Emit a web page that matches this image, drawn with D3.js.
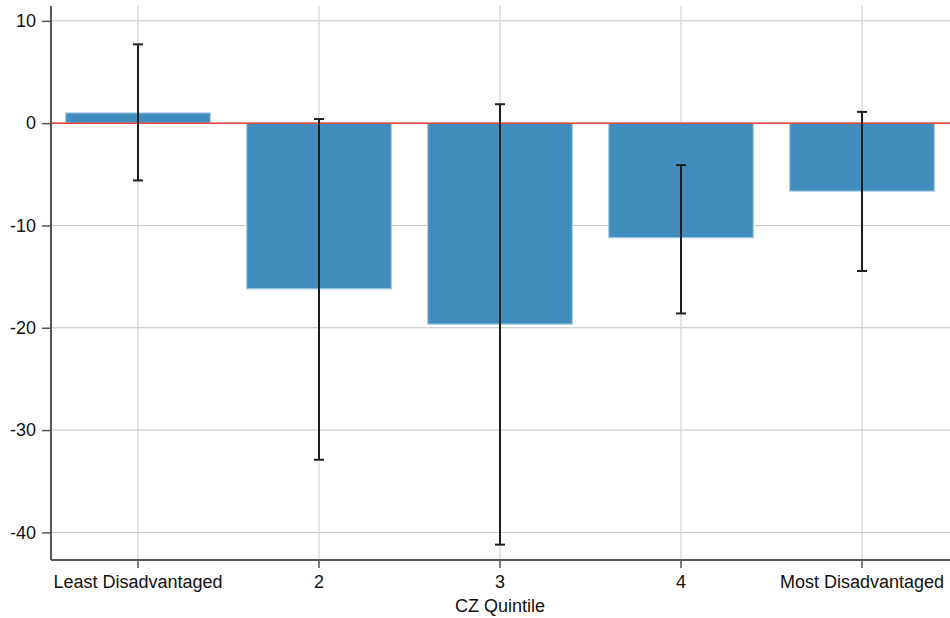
<!DOCTYPE html>
<html>
<head>
<meta charset="utf-8">
<script src="https://cdn.jsdelivr.net/npm/d3@7/dist/d3.min.js"></script>
<style>
  html, body { margin: 0; padding: 0; background: #fff; }
  svg { display: block; font-family: "Liberation Sans", Arial, Helvetica, sans-serif; }
</style>
</head>
<body>
<svg id="chart" width="950" height="618"></svg>
<script>
const categories = ["Least Disadvantaged", "2", "3", "4", "Most Disadvantaged"];
const values = [1.0, -16.2, -19.65, -11.2, -6.65];
const ciLow = [-5.6, -32.9, -41.2, -18.6, -14.45];
const ciHigh = [7.7, 0.4, 1.85, -4.1, 1.1];
const yTicks = [10, 0, -10, -20, -30, -40];
const xTitle = "CZ Quintile";

(function () {
const svg = d3.select("#chart");
const mLeft = 51, mTop = 6, mBottom = 560, mRight = 950;
const FS = 18;

const x = d3.scaleBand().domain(categories).range([47.5, 952.5]).padding(0);
const y = d3.scaleLinear().domain([-42.7, 11.45]).range([mBottom, mTop]);

const data = categories.map((c, i) => ({ c, v: values[i], lo: ciLow[i], hi: ciHigh[i] }));

// gridlines
const grid = svg.append("g");
grid.selectAll("line.h").data(yTicks).join("line").attr("class", "h")
  .attr("x1", mLeft).attr("x2", mRight)
  .attr("y1", d => y(d)).attr("y2", d => y(d))
  .attr("stroke", "#c4c4c4").attr("stroke-width", 1);
grid.selectAll("line.v").data(categories).join("line").attr("class", "v")
  .attr("x1", d => x(d) + x.bandwidth() / 2).attr("x2", d => x(d) + x.bandwidth() / 2)
  .attr("y1", mTop).attr("y2", mBottom)
  .attr("stroke", "#d6d6d6").attr("stroke-width", 1.3);

// bars
const bw = x.bandwidth() * 0.8;
svg.append("g").selectAll("rect").data(data).join("rect")
  .attr("x", d => x(d.c) + (x.bandwidth() - bw) / 2)
  .attr("width", bw)
  .attr("y", d => Math.min(y(d.v), y(0)))
  .attr("height", d => Math.abs(y(d.v) - y(0)))
  .attr("fill", "#418dbd")
  .attr("stroke", "#a9cfe8")
  .attr("stroke-width", 1.2);

// zero line
svg.append("line")
  .attr("x1", mLeft).attr("x2", mRight)
  .attr("y1", y(0)).attr("y2", y(0))
  .attr("stroke", "#e8413c").attr("stroke-width", 1.5);

// error bars
const eb = svg.append("g").attr("stroke", "#1e1e1e").attr("stroke-width", 2);
data.forEach(d => {
  const cx = x(d.c) + x.bandwidth() / 2;
  eb.append("line").attr("x1", cx).attr("x2", cx).attr("y1", y(d.hi)).attr("y2", y(d.lo));
  eb.append("line").attr("x1", cx - 5).attr("x2", cx + 5).attr("y1", y(d.hi)).attr("y2", y(d.hi));
  eb.append("line").attr("x1", cx - 5).attr("x2", cx + 5).attr("y1", y(d.lo)).attr("y2", y(d.lo));
});

// y axis
const yAxis = svg.append("g").attr("transform", `translate(${mLeft},0)`)
  .call(d3.axisLeft(y).tickValues(yTicks).tickSize(9).tickPadding(6).tickFormat(d => d < 0 ? "-" + Math.abs(d) : String(d)));
yAxis.select(".domain").attr("stroke", "#555").attr("stroke-width", 2).attr("d", `M0,${mTop}V${mBottom}`);
yAxis.selectAll(".tick line").attr("stroke", "#555").attr("stroke-width", 1.5);
yAxis.selectAll(".tick text").attr("font-size", FS).attr("fill", "#111")
  .attr("font-family", "Liberation Sans, Arial, sans-serif");

// x axis
const xAxis = svg.append("g").attr("transform", `translate(0,${mBottom})`)
  .call(d3.axisBottom(x).tickSize(8).tickPadding(7));
xAxis.select(".domain").attr("stroke", "#555").attr("stroke-width", 2).attr("d", `M${mLeft},0H${mRight}`);
xAxis.selectAll(".tick line").attr("stroke", "#555").attr("stroke-width", 1.5);
xAxis.selectAll(".tick text").attr("font-size", FS).attr("fill", "#111")
  .attr("font-family", "Liberation Sans, Arial, sans-serif");

svg.append("text")
  .attr("x", x("3") + x.bandwidth() / 2).attr("y", 612)
  .attr("text-anchor", "middle").attr("font-size", FS).attr("fill", "#111")
  .text(xTitle);
})();
</script>
</body>
</html>
